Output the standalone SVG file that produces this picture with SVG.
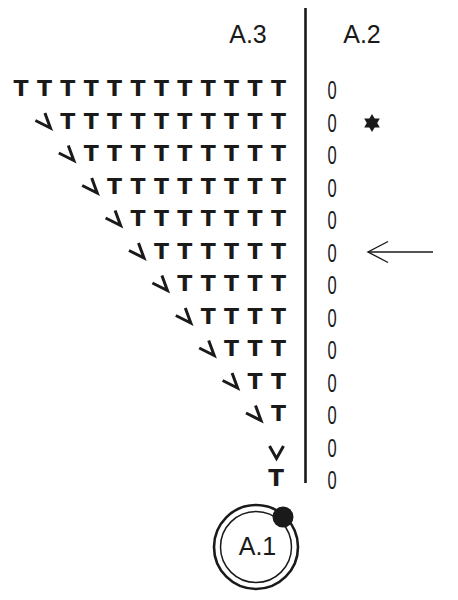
<svg xmlns="http://www.w3.org/2000/svg" xmlns:xlink="http://www.w3.org/1999/xlink" width="458" height="600" viewBox="0 0 458 600">
<style>
.t{font-family:"DejaVu Sans","Liberation Sans",sans-serif;font-weight:bold;font-size:22px;fill:#1a1a1a;text-anchor:middle}
.z{font-family:"Liberation Sans",Arial,sans-serif;font-size:25px;fill:#1a1a1a;text-anchor:middle}
.lbl{font-family:"Liberation Sans",Arial,sans-serif;font-size:25px;fill:#1a1a1a;text-anchor:middle}
.hk{fill:none;stroke:#1a1a1a;stroke-width:3;stroke-linejoin:miter}
.ln{fill:none;stroke:#1a1a1a}
</style>
<defs>
<polyline id="hook" class="hk" points="-9,-0.5 6,7 0.5,-8"/>
</defs>
<rect width="458" height="600" fill="#fff"/>
<g id="headers">
<text class="lbl" x="248" y="43">A.3</text>
<text class="lbl" x="362" y="43">A.2</text>
</g>
<g id="connectors">
<line class="ln" x1="305.5" y1="8" x2="305.5" y2="483" stroke-width="2.6"/>
<line class="ln" x1="368" y1="252" x2="433" y2="252" stroke-width="1.4"/>
<polyline class="ln" points="388,241.5 368,252 388,262.5" stroke-width="1.4"/>
</g>
<g id="a3">
<g id="row0">
<text class="t" x="21" y="96">T</text><text class="t" x="44.4" y="96">T</text><text class="t" x="67.8" y="96">T</text><text class="t" x="91.2" y="96">T</text><text class="t" x="114.6" y="96">T</text><text class="t" x="138" y="96">T</text><text class="t" x="161.4" y="96">T</text><text class="t" x="184.8" y="96">T</text><text class="t" x="208.2" y="96">T</text><text class="t" x="231.6" y="96">T</text><text class="t" x="255" y="96">T</text><text class="t" x="278.4" y="96">T</text>
</g>
<g id="row1">
<use xlink:href="#hook" x="44.4" y="121"/>
<text class="t" x="67.8" y="128.5">T</text><text class="t" x="91.2" y="128.5">T</text><text class="t" x="114.6" y="128.5">T</text><text class="t" x="138" y="128.5">T</text><text class="t" x="161.4" y="128.5">T</text><text class="t" x="184.8" y="128.5">T</text><text class="t" x="208.2" y="128.5">T</text><text class="t" x="231.6" y="128.5">T</text><text class="t" x="255" y="128.5">T</text><text class="t" x="278.4" y="128.5">T</text>
</g>
<g id="row2">
<use xlink:href="#hook" x="67.8" y="153.5"/>
<text class="t" x="91.2" y="161">T</text><text class="t" x="114.6" y="161">T</text><text class="t" x="138" y="161">T</text><text class="t" x="161.4" y="161">T</text><text class="t" x="184.8" y="161">T</text><text class="t" x="208.2" y="161">T</text><text class="t" x="231.6" y="161">T</text><text class="t" x="255" y="161">T</text><text class="t" x="278.4" y="161">T</text>
</g>
<g id="row3">
<use xlink:href="#hook" x="91.2" y="186"/>
<text class="t" x="114.6" y="193.5">T</text><text class="t" x="138" y="193.5">T</text><text class="t" x="161.4" y="193.5">T</text><text class="t" x="184.8" y="193.5">T</text><text class="t" x="208.2" y="193.5">T</text><text class="t" x="231.6" y="193.5">T</text><text class="t" x="255" y="193.5">T</text><text class="t" x="278.4" y="193.5">T</text>
</g>
<g id="row4">
<use xlink:href="#hook" x="114.6" y="218.5"/>
<text class="t" x="138" y="226">T</text><text class="t" x="161.4" y="226">T</text><text class="t" x="184.8" y="226">T</text><text class="t" x="208.2" y="226">T</text><text class="t" x="231.6" y="226">T</text><text class="t" x="255" y="226">T</text><text class="t" x="278.4" y="226">T</text>
</g>
<g id="row5">
<use xlink:href="#hook" x="138" y="251"/>
<text class="t" x="161.4" y="258.5">T</text><text class="t" x="184.8" y="258.5">T</text><text class="t" x="208.2" y="258.5">T</text><text class="t" x="231.6" y="258.5">T</text><text class="t" x="255" y="258.5">T</text><text class="t" x="278.4" y="258.5">T</text>
</g>
<g id="row6">
<use xlink:href="#hook" x="161.4" y="283.5"/>
<text class="t" x="184.8" y="291">T</text><text class="t" x="208.2" y="291">T</text><text class="t" x="231.6" y="291">T</text><text class="t" x="255" y="291">T</text><text class="t" x="278.4" y="291">T</text>
</g>
<g id="row7">
<use xlink:href="#hook" x="184.8" y="316"/>
<text class="t" x="208.2" y="323.5">T</text><text class="t" x="231.6" y="323.5">T</text><text class="t" x="255" y="323.5">T</text><text class="t" x="278.4" y="323.5">T</text>
</g>
<g id="row8">
<use xlink:href="#hook" x="208.2" y="348.5"/>
<text class="t" x="231.6" y="356">T</text><text class="t" x="255" y="356">T</text><text class="t" x="278.4" y="356">T</text>
</g>
<g id="row9">
<use xlink:href="#hook" x="231.6" y="381"/>
<text class="t" x="255" y="388.5">T</text><text class="t" x="278.4" y="388.5">T</text>
</g>
<g id="row10">
<use xlink:href="#hook" x="255" y="413.5"/>
<text class="t" x="278.4" y="421">T</text>
</g>
<g id="row11">
<polyline class="hk" points="269.5,446 276.5,458.5 283.5,446"/>
</g>
<g id="row12">
<text class="t" x="276" y="486" style="font-size:23px">T</text>
</g>
</g>
<g id="a2" transform="translate(332,0) scale(0.66,1)">
<text class="z" x="0" y="99.5">0</text>
<text class="z" x="0" y="132">0</text>
<text class="z" x="0" y="164.5">0</text>
<text class="z" x="0" y="197">0</text>
<text class="z" x="0" y="229.5">0</text>
<text class="z" x="0" y="262">0</text>
<text class="z" x="0" y="294.5">0</text>
<text class="z" x="0" y="327">0</text>
<text class="z" x="0" y="359.5">0</text>
<text class="z" x="0" y="392">0</text>
<text class="z" x="0" y="424.5">0</text>
<text class="z" x="0" y="457">0</text>
<text class="z" x="0" y="489.5">0</text>
</g>
<g id="star">
<polygon points="372,114 379.8,127.5 364.2,127.5" fill="#1a1a1a"/>
<polygon points="372,132 379.8,118.5 364.2,118.5" fill="#1a1a1a"/>
</g>
<g id="a1">
<circle cx="256" cy="547" r="42" fill="none" stroke="#1a1a1a" stroke-width="2.6"/>
<circle cx="256" cy="547" r="35.5" fill="none" stroke="#1a1a1a" stroke-width="1.5"/>
<circle cx="283" cy="517" r="10.5" fill="#1a1a1a"/>
<text class="lbl" x="257.5" y="555">A.1</text>
</g>
</svg>
